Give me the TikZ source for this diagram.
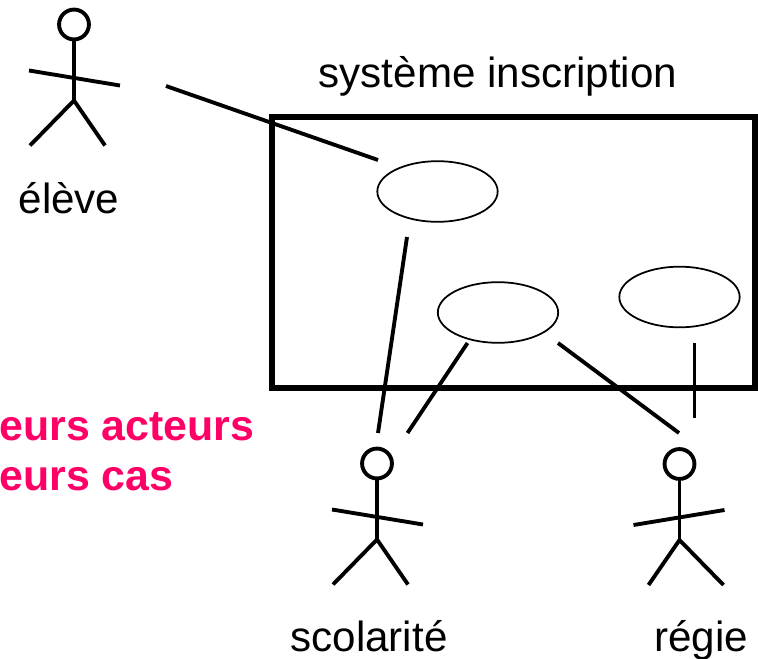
\documentclass[tikz,border=0pt]{standalone}
\usepackage{fontspec}
\setmainfont{Liberation Sans}
\usepackage{xcolor}
\usepackage{tikz}
\usetikzlibrary{shapes.geometric,positioning}
\definecolor{titlepink}{RGB}{255,0,102}
\tikzset{
    usecase/.style={draw, ellipse, line width=1pt, inner sep=0pt, minimum width=68.5pt, minimum height=34.5pt},
    link/.style={line width=2.2pt},
    label/.style={inner sep=0pt, anchor=base, font=\fontsize{24pt}{28pt}\selectfont},
    remark/.style={inner sep=0pt, anchor=base west, text=titlepink, font=\fontsize{24.4pt}{28pt}\selectfont\bfseries},
    actor/.pic={
        \node[draw, circle, line width=2.2pt, inner sep=0pt, minimum size=17pt] (-head) at (0,0) {};
        \coordinate (-hip) at (0,76);
        \draw[link] (-head) -- (-hip);
        \draw[link] (-45,46) -- (46,61);
        \draw[link] (-44,121) -- (-hip) -- (31,121);
    }
}
\begin{document}
\begin{tikzpicture}[x=0.02cm, y=-0.02cm]
    \useasboundingbox (0,0) rectangle (758,659);
    % system box
    \draw[line width=3.4pt] (272,117) rectangle (755,388);
    \node[label] (title) at (498,87) {système inscription};
    % use cases
    \node[usecase] (caseA) at (437.5,191.5) {};
    \node[usecase] (caseB) at (498,312.5) {};
    \node[usecase] (caseC) at (679.5,297) {};
    % actors
    \pic (eleve) at (74,24.5) {actor};
    \pic (scol) at (377,463.5) {actor};
    \pic[xscale=-1] (regie) at (679.5,464) {actor};
    \node[label] (eleveName) at (69,213) {élève};
    \node[label] (scolName) at (369,651) {scolarité};
    \node[label] (regieName) at (701,651) {régie};
    % free ends of the connectors
    \coordinate (eleveEnd) at (166,86);
    \coordinate (caseAIn) at (378,160);
    \coordinate (caseAOut) at (407,237);
    \coordinate (scolEndA) at (378,433);
    \coordinate (caseBOutL) at (467.5,343);
    \coordinate (scolEndB) at (407.5,433);
    \coordinate (caseBOutR) at (558,343);
    \coordinate (regieEndB) at (679,433);
    \coordinate (caseCOut) at (694.5,343);
    \coordinate (regieEndC) at (694.5,418);
    \draw[link] (eleveEnd) -- (caseAIn);
    \draw[link] (caseAOut) -- (scolEndA);
    \draw[link] (caseBOutL) -- (scolEndB);
    \draw[link] (caseBOutR) -- (regieEndB);
    \draw[link] (caseCOut) -- (regieEndC);
    % remark, cut by the page edge
    \node[remark] (remarkA) at (-1,440) {eurs acteurs};
    \node[remark] (remarkB) at (-1,490) {eurs cas};
\end{tikzpicture}
\end{document}
